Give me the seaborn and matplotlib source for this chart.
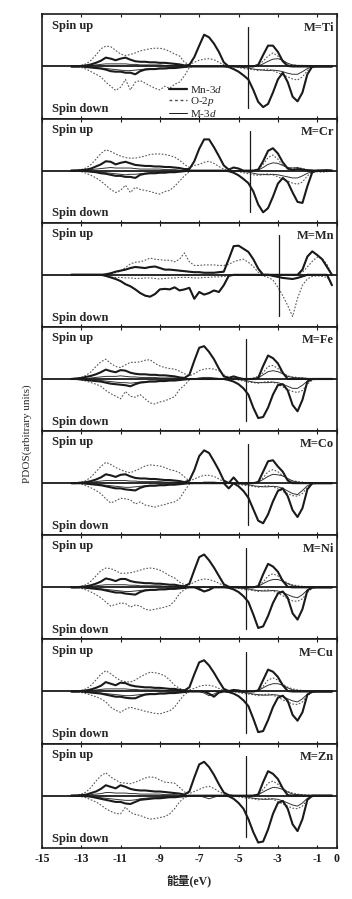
import matplotlib
matplotlib.use('Agg')
import matplotlib.pyplot as plt
import seaborn as sns
from matplotlib.lines import Line2D

# energie (eV), pas de 0.25
energy = [-13.5, -13.25, -13.0, -12.75, -12.5, -12.25, -12.0, -11.75,
          -11.5, -11.25, -11.0, -10.75, -10.5, -10.25, -10.0, -9.75,
          -9.5, -9.25, -9.0, -8.75, -8.5, -8.25, -8.0, -7.75,
          -7.5, -7.25, -7.0, -6.75, -6.5, -6.25, -6.0, -5.75,
          -5.5, -5.25, -5.0, -4.75, -4.5, -4.25, -4.0, -3.75,
          -3.5, -3.25, -3.0, -2.75, -2.5, -2.25, -2.0, -1.75,
          -1.5, -1.25, -1.0, -0.75, -0.5, -0.25]

metals = ['Ti', 'Cr', 'Mn', 'Fe', 'Co', 'Ni', 'Cu', 'Zn']
fermi_levels = [-4.5, -4.4, -2.95, -4.6, -4.5, -4.6, -4.63, -4.6]

# ---- M = Ti ----
ti_mn3d_up = [0, 0, 0.01, 0.02, 0.04, 0.07, 0.11, 0.17,
              0.15, 0.12, 0.15, 0.17, 0.13, 0.10, 0.09, 0.09,
              0.08, 0.08, 0.07, 0.07, 0.06, 0.05, 0.04, 0.02,
              0.03, 0.18, 0.40, 0.61, 0.56, 0.44, 0.28, 0.08,
              0, 0, 0, 0, 0, 0, 0.03, 0.22,
              0.40, 0.40, 0.28, 0.10, 0.01, 0, 0, 0,
              0, 0, 0, 0, 0, 0]
ti_mn3d_dn = [0, 0, 0, 0.01, 0.02, 0.03, 0.04, 0.06,
              0.09, 0.10, 0.10, 0.12, 0.12, 0.15, 0.09, 0.06,
              0.05, 0.05, 0.04, 0.04, 0.03, 0.03, 0.02, 0.01,
              0, 0, 0, 0, 0, 0, 0, 0,
              0.01, 0.05, 0.10, 0.17, 0.25, 0.45, 0.68, 0.78,
              0.72, 0.50, 0.25, 0.12, 0.30, 0.58, 0.67, 0.50,
              0.15, 0, 0, 0, 0, 0]
ti_o2p_up = [0, 0.01, 0.02, 0.05, 0.12, 0.22, 0.34, 0.39,
             0.38, 0.31, 0.24, 0.21, 0.23, 0.26, 0.30, 0.32,
             0.34, 0.35, 0.35, 0.33, 0.29, 0.24, 0.20, 0.08,
             0.04, 0.08, 0.12, 0.14, 0.15, 0.13, 0.08, 0.03,
             0, 0, 0, 0, 0, 0.01, 0.03, 0.10,
             0.20, 0.26, 0.20, 0.10, 0.05, 0.03, 0.02, 0.02,
             0.01, 0, 0, 0, 0, 0]
ti_o2p_dn = [0, 0, 0.02, 0.05, 0.10, 0.15, 0.20, 0.30,
             0.38, 0.46, 0.40, 0.25, 0.45, 0.30, 0.27, 0.32,
             0.37, 0.42, 0.45, 0.38, 0.42, 0.34, 0.30, 0.18,
             0.02, 0, 0, 0, 0, 0, 0, 0,
             0, 0, 0.02, 0.04, 0.05, 0.06, 0.08, 0.06,
             0.05, 0.08, 0.12, 0.16, 0.20, 0.24, 0.26, 0.20,
             0.08, 0.02, 0, 0, 0, 0]
ti_m3d_up = [0, 0, 0, 0.01, 0.02, 0.03, 0.04, 0.05,
             0.05, 0.05, 0.05, 0.05, 0.04, 0.04, 0.03, 0.03,
             0.03, 0.03, 0.03, 0.02, 0.02, 0.02, 0.01, 0.01,
             0, 0, 0, 0, 0, 0, 0, 0,
             0, 0, 0, 0, 0, 0, 0.01, 0.05,
             0.10, 0.14, 0.15, 0.12, 0.06, 0.03, 0.02, 0.02,
             0.02, 0.01, 0, 0, 0, 0]
ti_m3d_dn = [0, 0, 0, 0.01, 0.02, 0.02, 0.03, 0.04,
             0.05, 0.06, 0.07, 0.08, 0.08, 0.07, 0.06, 0.05,
             0.04, 0.04, 0.03, 0.03, 0.02, 0.02, 0.01, 0.01,
             0, 0, 0, 0, 0, 0, 0, 0,
             0, 0, 0.01, 0.02, 0.03, 0.05, 0.06, 0.07,
             0.08, 0.07, 0.08, 0.10, 0.13, 0.15, 0.15, 0.10,
             0.04, 0.01, 0, 0, 0, 0]

# ---- M = Cr ----
cr_mn3d_up = [0, 0, 0.01, 0.02, 0.04, 0.08, 0.12, 0.18,
              0.17, 0.12, 0.15, 0.17, 0.14, 0.11, 0.10, 0.09,
              0.09, 0.08, 0.08, 0.07, 0.07, 0.06, 0.05, 0.03,
              0.03, 0.18, 0.42, 0.60, 0.60, 0.45, 0.28, 0.10,
              0.02, 0.06, 0.04, 0, 0, 0, 0.02, 0.18,
              0.38, 0.43, 0.33, 0.16, 0.04, 0.01, 0.03, 0.02,
              0, 0, 0, 0, 0, 0]
cr_mn3d_dn = [0, 0, 0, 0.01, 0.02, 0.03, 0.05, 0.06,
              0.08, 0.10, 0.10, 0.12, 0.12, 0.14, 0.08, 0.06,
              0.05, 0.05, 0.04, 0.04, 0.03, 0.03, 0.02, 0.01,
              0, 0, 0, 0, 0, 0, 0, 0,
              0.01, 0.04, 0.09, 0.16, 0.24, 0.40, 0.65, 0.80,
              0.72, 0.50, 0.25, 0.14, 0.22, 0.42, 0.60, 0.62,
              0.30, 0.03, 0, 0, 0, 0]
cr_o2p_up = [0, 0.01, 0.02, 0.05, 0.12, 0.22, 0.33, 0.40,
             0.37, 0.32, 0.28, 0.25, 0.24, 0.24, 0.26, 0.28,
             0.31, 0.32, 0.32, 0.31, 0.29, 0.26, 0.20, 0.12,
             0.06, 0.10, 0.12, 0.16, 0.18, 0.14, 0.08, 0.03,
             0, 0, 0, 0, 0, 0.01, 0.03, 0.12,
             0.25, 0.30, 0.22, 0.10, 0.06, 0.04, 0.06, 0.04,
             0.02, 0, 0, 0, 0, 0]
cr_o2p_dn = [0, 0, 0.02, 0.05, 0.09, 0.14, 0.20, 0.28,
             0.36, 0.42, 0.38, 0.28, 0.42, 0.32, 0.36, 0.38,
             0.40, 0.43, 0.45, 0.40, 0.38, 0.30, 0.20, 0.10,
             0.02, 0, 0, 0, 0, 0, 0, 0,
             0, 0, 0.02, 0.04, 0.06, 0.08, 0.09, 0.08,
             0.06, 0.08, 0.12, 0.16, 0.20, 0.24, 0.26, 0.22,
             0.10, 0.03, 0.02, 0.03, 0.02, 0]
cr_m3d_up = [0, 0, 0, 0.01, 0.02, 0.03, 0.04, 0.05,
             0.06, 0.05, 0.05, 0.05, 0.05, 0.04, 0.03, 0.03,
             0.03, 0.03, 0.03, 0.02, 0.02, 0.02, 0.01, 0.01,
             0, 0, 0, 0, 0, 0, 0, 0,
             0, 0, 0, 0, 0, 0, 0.01, 0.06,
             0.12, 0.15, 0.14, 0.10, 0.06, 0.05, 0.06, 0.03,
             0.02, 0.01, 0, 0.01, 0.02, 0]
cr_m3d_dn = [0, 0, 0, 0.01, 0.02, 0.03, 0.03, 0.04,
             0.05, 0.06, 0.07, 0.08, 0.07, 0.07, 0.06, 0.05,
             0.04, 0.04, 0.03, 0.03, 0.02, 0.02, 0.01, 0.01,
             0, 0, 0, 0, 0, 0, 0, 0,
             0, 0, 0.01, 0.02, 0.03, 0.05, 0.07, 0.07,
             0.08, 0.07, 0.08, 0.10, 0.12, 0.14, 0.14, 0.10,
             0.05, 0.02, 0, 0, 0, 0]

# ---- M = Mn ----
mn_mn3d_up = [0, 0, 0, 0, 0, 0, 0, 0.01,
              0.03, 0.06, 0.08, 0.10, 0.13, 0.15, 0.14, 0.13,
              0.15, 0.16, 0.13, 0.10, 0.10, 0.09, 0.08, 0.07,
              0.06, 0.05, 0.05, 0.04, 0.04, 0.04, 0.05, 0.06,
              0.30, 0.55, 0.56, 0.50, 0.44, 0.30, 0.12, 0,
              0, 0, 0, 0, 0, 0, 0, 0.10,
              0.35, 0.45, 0.38, 0.30, 0.15, 0]
mn_mn3d_dn = [0, 0, 0, 0, 0, 0, 0, 0.02,
              0.05, 0.08, 0.12, 0.18, 0.22, 0.28, 0.35, 0.40,
              0.42, 0.37, 0.28, 0.27, 0.28, 0.24, 0.30, 0.28,
              0.25, 0.46, 0.33, 0.38, 0.35, 0.30, 0.33, 0.20,
              0.02, 0, 0, 0, 0, 0, 0, 0,
              0, 0.02, 0.04, 0.06, 0.07, 0.08, 0.06, 0.03,
              0, 0, 0, 0, 0, 0.20]
mn_o2p_up = [0, 0, 0, 0, 0, 0, 0, 0,
             0.02, 0.04, 0.07, 0.14, 0.21, 0.24, 0.25, 0.28,
             0.32, 0.30, 0.29, 0.28, 0.28, 0.25, 0.30, 0.42,
             0.25, 0.18, 0.18, 0.19, 0.19, 0.19, 0.18, 0.18,
             0.20, 0.25, 0.28, 0.30, 0.24, 0.16, 0.05, 0,
             0, 0, 0, 0, 0, 0, 0, 0.05,
             0.15, 0.26, 0.34, 0.31, 0.20, 0]
mn_o2p_dn = [0, 0, 0, 0, 0, 0, 0, 0.02,
             0.04, 0.05, 0.05, 0.06, 0.06, 0.07, 0.07, 0.06,
             0.06, 0.07, 0.08, 0.07, 0.06, 0.06, 0.05, 0.05,
             0.05, 0.06, 0.06, 0.05, 0.05, 0.04, 0.04, 0.03,
             0.02, 0.01, 0, 0, 0, 0, 0, 0.02,
             0.05, 0.10, 0.24, 0.40, 0.59, 0.80, 0.45, 0.20,
             0.08, 0.03, 0.02, 0.03, 0.05, 0.15]
mn_m3d_up = mn_mn3d_up  # M = Mn : meme courbe
mn_m3d_dn = mn_mn3d_dn

# ---- M = Fe ----
fe_mn3d_up = [0, 0.01, 0.02, 0.04, 0.06, 0.09, 0.13, 0.18,
              0.15, 0.13, 0.17, 0.16, 0.12, 0.10, 0.09, 0.09,
              0.08, 0.08, 0.07, 0.07, 0.06, 0.05, 0.03, 0.02,
              0.08, 0.35, 0.60, 0.63, 0.52, 0.38, 0.20, 0.05,
              0.02, 0.05, 0.02, 0, 0, 0, 0.02, 0.25,
              0.45, 0.40, 0.30, 0.12, 0, 0, 0, 0,
              0, 0, 0, 0, 0, 0]
fe_mn3d_dn = [0, 0, 0.01, 0.02, 0.03, 0.04, 0.05, 0.07,
              0.09, 0.10, 0.11, 0.12, 0.14, 0.10, 0.07, 0.06,
              0.05, 0.05, 0.04, 0.04, 0.03, 0.03, 0.02, 0.01,
              0, 0, 0, 0, 0, 0, 0, 0,
              0.02, 0.05, 0.10, 0.18, 0.30, 0.55, 0.75, 0.73,
              0.55, 0.30, 0.12, 0.10, 0.22, 0.50, 0.62, 0.40,
              0.05, 0, 0, 0, 0, 0]
fe_o2p_up = [0, 0.01, 0.03, 0.07, 0.14, 0.24, 0.33, 0.38,
             0.30, 0.24, 0.22, 0.27, 0.32, 0.32, 0.33, 0.36,
             0.37, 0.30, 0.25, 0.22, 0.20, 0.19, 0.15, 0.10,
             0.06, 0.10, 0.16, 0.19, 0.20, 0.19, 0.16, 0.08,
             0.04, 0.02, 0, 0, 0, 0.02, 0.05, 0.12,
             0.24, 0.26, 0.20, 0.12, 0.06, 0.04, 0.03, 0.02,
             0.01, 0, 0, 0, 0, 0]
fe_o2p_dn = [0, 0, 0.02, 0.04, 0.07, 0.10, 0.14, 0.22,
             0.28, 0.33, 0.38, 0.24, 0.33, 0.35, 0.30, 0.38,
             0.46, 0.48, 0.44, 0.42, 0.38, 0.34, 0.20, 0.12,
             0.02, 0, 0, 0, 0, 0, 0, 0,
             0, 0, 0.02, 0.04, 0.06, 0.07, 0.08, 0.06,
             0.05, 0.06, 0.10, 0.15, 0.20, 0.24, 0.26, 0.22,
             0.10, 0.02, 0, 0, 0, 0]
fe_m3d_up = [0, 0, 0, 0.01, 0.02, 0.03, 0.04, 0.05,
             0.05, 0.05, 0.06, 0.05, 0.04, 0.04, 0.03, 0.03,
             0.03, 0.03, 0.02, 0.02, 0.02, 0.02, 0.01, 0.01,
             0, 0, 0.02, 0.03, 0.03, 0.02, 0.01, 0,
             0, 0, 0, 0, 0, 0, 0.02, 0.08,
             0.14, 0.16, 0.14, 0.10, 0.05, 0.03, 0.02, 0.02,
             0.01, 0, 0, 0, 0, 0]
fe_m3d_dn = [0, 0, 0, 0.01, 0.02, 0.02, 0.03, 0.04,
             0.05, 0.06, 0.07, 0.07, 0.08, 0.07, 0.06, 0.05,
             0.04, 0.04, 0.03, 0.03, 0.02, 0.02, 0.01, 0.01,
             0, 0, 0, 0, 0, 0, 0, 0,
             0, 0, 0.01, 0.02, 0.04, 0.06, 0.07, 0.07,
             0.07, 0.06, 0.07, 0.10, 0.14, 0.18, 0.18, 0.12,
             0.04, 0.01, 0, 0, 0, 0]

# ---- M = Co ----
co_mn3d_up = [0, 0, 0.01, 0.02, 0.04, 0.07, 0.11, 0.17,
              0.15, 0.12, 0.16, 0.17, 0.13, 0.10, 0.09, 0.09,
              0.08, 0.08, 0.07, 0.06, 0.06, 0.05, 0.04, 0.02,
              0.05, 0.25, 0.52, 0.63, 0.58, 0.42, 0.25, 0.05,
              0, 0.11, 0, 0, 0, 0, 0.02, 0.22,
              0.42, 0.44, 0.32, 0.22, 0.05, 0, 0, 0,
              0, 0, 0, 0, 0, 0]
co_mn3d_dn = [0, 0, 0, 0.01, 0.02, 0.03, 0.04, 0.06,
              0.08, 0.10, 0.10, 0.12, 0.13, 0.14, 0.09, 0.06,
              0.05, 0.05, 0.04, 0.04, 0.03, 0.03, 0.02, 0.01,
              0, 0, 0, 0, 0, 0, 0, 0,
              0.10, 0, 0.06, 0.15, 0.28, 0.50, 0.72, 0.77,
              0.60, 0.35, 0.15, 0.10, 0.25, 0.52, 0.65, 0.48,
              0.12, 0, 0, 0, 0, 0]
co_o2p_up = [0, 0.01, 0.02, 0.05, 0.12, 0.22, 0.32, 0.40,
             0.36, 0.30, 0.26, 0.22, 0.20, 0.24, 0.28, 0.33,
             0.35, 0.34, 0.33, 0.30, 0.26, 0.24, 0.20, 0.12,
             0.04, 0.08, 0.12, 0.15, 0.15, 0.13, 0.08, 0.03,
             0, 0, 0, 0, 0, 0.01, 0.03, 0.10,
             0.22, 0.26, 0.22, 0.14, 0.08, 0.05, 0.03, 0.02,
             0.01, 0, 0, 0, 0, 0]
co_o2p_dn = [0, 0, 0.02, 0.05, 0.09, 0.14, 0.20, 0.30,
             0.38, 0.34, 0.29, 0.30, 0.32, 0.40, 0.36, 0.42,
             0.44, 0.46, 0.43, 0.41, 0.38, 0.36, 0.30, 0.15,
             0.02, 0, 0, 0, 0, 0, 0, 0,
             0, 0, 0.02, 0.04, 0.05, 0.06, 0.08, 0.06,
             0.05, 0.07, 0.11, 0.16, 0.20, 0.24, 0.25, 0.20,
             0.08, 0.02, 0, 0, 0, 0]
co_m3d_up = [0, 0, 0, 0.01, 0.02, 0.03, 0.04, 0.05,
             0.05, 0.05, 0.05, 0.05, 0.04, 0.04, 0.03, 0.03,
             0.03, 0.03, 0.03, 0.02, 0.02, 0.02, 0.01, 0.01,
             0, 0, 0, 0.02, 0.02, 0.02, 0.01, 0,
             0, 0, 0, 0, 0, 0, 0.02, 0.07,
             0.13, 0.17, 0.16, 0.14, 0.09, 0.04, 0.02, 0.01,
             0, 0, 0, 0, 0, 0]
co_m3d_dn = [0, 0, 0, 0.01, 0.02, 0.02, 0.03, 0.04,
             0.05, 0.06, 0.07, 0.08, 0.08, 0.07, 0.06, 0.05,
             0.04, 0.04, 0.03, 0.03, 0.02, 0.02, 0.01, 0.01,
             0, 0, 0, 0, 0, 0, 0, 0,
             0, 0, 0.01, 0.02, 0.03, 0.05, 0.06, 0.07,
             0.07, 0.06, 0.07, 0.10, 0.15, 0.20, 0.22, 0.14,
             0.05, 0.01, 0, 0, 0, 0]

# ---- M = Ni ----
ni_mn3d_up = [0, 0, 0.01, 0.02, 0.04, 0.07, 0.11, 0.17,
              0.15, 0.12, 0.16, 0.16, 0.12, 0.10, 0.09, 0.08,
              0.08, 0.07, 0.07, 0.06, 0.05, 0.05, 0.03, 0.02,
              0.07, 0.33, 0.58, 0.63, 0.52, 0.38, 0.22, 0.06,
              0.01, 0, 0, 0, 0, 0, 0.02, 0.25,
              0.45, 0.40, 0.30, 0.12, 0.01, 0, 0, 0,
              0, 0, 0, 0, 0, 0]
ni_mn3d_dn = [0, 0, 0, 0.01, 0.02, 0.03, 0.04, 0.06,
              0.08, 0.10, 0.10, 0.12, 0.13, 0.14, 0.09, 0.06,
              0.05, 0.05, 0.04, 0.04, 0.03, 0.03, 0.02, 0.01,
              0, 0, 0.03, 0.08, 0.05, 0, 0, 0,
              0.01, 0.04, 0.09, 0.17, 0.28, 0.52, 0.78, 0.75,
              0.55, 0.30, 0.12, 0.08, 0.20, 0.50, 0.62, 0.42,
              0.06, 0, 0, 0, 0, 0]
ni_o2p_up = [0, 0.01, 0.02, 0.05, 0.12, 0.22, 0.32, 0.37,
             0.36, 0.32, 0.27, 0.27, 0.28, 0.30, 0.33, 0.36,
             0.37, 0.36, 0.33, 0.28, 0.22, 0.18, 0.10, 0.05,
             0.05, 0.10, 0.14, 0.16, 0.15, 0.12, 0.08, 0.03,
             0, 0, 0, 0, 0, 0.01, 0.03, 0.10,
             0.22, 0.26, 0.22, 0.14, 0.08, 0.05, 0.03, 0.02,
             0.01, 0, 0, 0, 0, 0]
ni_o2p_dn = [0, 0, 0.02, 0.05, 0.09, 0.14, 0.20, 0.28,
             0.36, 0.33, 0.30, 0.31, 0.38, 0.34, 0.36, 0.42,
             0.44, 0.42, 0.40, 0.38, 0.35, 0.26, 0.12, 0.04,
             0, 0, 0, 0, 0, 0, 0, 0,
             0, 0, 0.02, 0.04, 0.05, 0.06, 0.08, 0.06,
             0.05, 0.07, 0.11, 0.16, 0.22, 0.26, 0.27, 0.22,
             0.10, 0.02, 0, 0, 0, 0]
ni_m3d_up = [0, 0, 0, 0.01, 0.02, 0.03, 0.04, 0.05,
             0.05, 0.05, 0.05, 0.05, 0.04, 0.04, 0.03, 0.03,
             0.03, 0.03, 0.03, 0.02, 0.02, 0.02, 0.01, 0.01,
             0, 0, 0, 0, 0, 0, 0, 0,
             0, 0, 0, 0, 0, 0, 0.02, 0.07,
             0.12, 0.15, 0.15, 0.12, 0.07, 0.03, 0.02, 0.01,
             0, 0, 0, 0, 0, 0]
ni_m3d_dn = [0, 0, 0, 0.01, 0.02, 0.02, 0.03, 0.04,
             0.05, 0.06, 0.07, 0.08, 0.08, 0.07, 0.06, 0.05,
             0.04, 0.04, 0.03, 0.03, 0.02, 0.02, 0.01, 0.01,
             0, 0, 0.05, 0.08, 0.04, 0, 0, 0,
             0, 0, 0.01, 0.02, 0.03, 0.05, 0.06, 0.07,
             0.07, 0.06, 0.07, 0.10, 0.14, 0.18, 0.20, 0.14,
             0.05, 0.01, 0, 0, 0, 0]

# ---- M = Cu ----
cu_mn3d_up = [0, 0, 0.01, 0.02, 0.04, 0.07, 0.11, 0.18,
              0.15, 0.12, 0.17, 0.16, 0.12, 0.10, 0.09, 0.08,
              0.08, 0.07, 0.07, 0.06, 0.05, 0.05, 0.03, 0.02,
              0.08, 0.33, 0.56, 0.60, 0.50, 0.36, 0.20, 0.05,
              0.01, 0.03, 0.02, 0, 0, 0, 0.02, 0.22,
              0.42, 0.38, 0.28, 0.12, 0.01, 0, 0, 0,
              0, 0, 0, 0, 0, 0]
cu_mn3d_dn = [0, 0, 0, 0.01, 0.02, 0.03, 0.04, 0.06,
              0.08, 0.10, 0.10, 0.12, 0.13, 0.13, 0.09, 0.06,
              0.05, 0.05, 0.04, 0.04, 0.03, 0.03, 0.02, 0.01,
              0, 0, 0, 0, 0.04, 0.10, 0.02, 0,
              0.01, 0.04, 0.09, 0.17, 0.28, 0.52, 0.78, 0.76,
              0.55, 0.30, 0.12, 0.08, 0.18, 0.45, 0.56, 0.40,
              0.06, 0, 0, 0, 0, 0]
cu_o2p_up = [0, 0.01, 0.02, 0.05, 0.12, 0.22, 0.33, 0.40,
             0.34, 0.27, 0.21, 0.19, 0.18, 0.22, 0.28, 0.33,
             0.37, 0.36, 0.34, 0.30, 0.22, 0.12, 0.06, 0.03,
             0.03, 0.06, 0.10, 0.12, 0.12, 0.10, 0.06, 0.02,
             0, 0, 0, 0, 0, 0.01, 0.03, 0.10,
             0.22, 0.26, 0.22, 0.14, 0.08, 0.05, 0.03, 0.02,
             0.01, 0, 0, 0, 0, 0]
cu_o2p_dn = [0, 0, 0.02, 0.04, 0.07, 0.10, 0.14, 0.20,
             0.30, 0.36, 0.40, 0.34, 0.30, 0.33, 0.35, 0.38,
             0.40, 0.42, 0.43, 0.40, 0.37, 0.30, 0.17, 0.06,
             0, 0, 0, 0, 0, 0, 0, 0,
             0, 0, 0.02, 0.04, 0.05, 0.06, 0.08, 0.06,
             0.05, 0.07, 0.11, 0.16, 0.20, 0.24, 0.25, 0.20,
             0.08, 0.02, 0, 0, 0, 0]
cu_m3d_up = [0, 0, 0, 0.01, 0.02, 0.03, 0.04, 0.05,
             0.05, 0.05, 0.05, 0.05, 0.04, 0.04, 0.03, 0.03,
             0.03, 0.03, 0.03, 0.02, 0.02, 0.02, 0.01, 0.01,
             0, 0, 0, 0, 0, 0, 0, 0,
             0, 0, 0, 0, 0, 0, 0.02, 0.07,
             0.12, 0.15, 0.15, 0.12, 0.07, 0.03, 0.02, 0.01,
             0, 0, 0, 0, 0, 0]
cu_m3d_dn = [0, 0, 0, 0.01, 0.02, 0.02, 0.03, 0.04,
             0.05, 0.06, 0.07, 0.08, 0.08, 0.07, 0.06, 0.05,
             0.04, 0.04, 0.03, 0.03, 0.02, 0.02, 0.01, 0.01,
             0, 0, 0, 0.03, 0.08, 0.05, 0, 0,
             0, 0, 0.01, 0.02, 0.03, 0.05, 0.06, 0.07,
             0.07, 0.06, 0.07, 0.10, 0.14, 0.18, 0.20, 0.14,
             0.05, 0.01, 0, 0, 0, 0]

# ---- M = Zn ----
zn_mn3d_up = [0, 0, 0.01, 0.02, 0.05, 0.08, 0.13, 0.20,
              0.17, 0.14, 0.20, 0.17, 0.13, 0.11, 0.10, 0.10,
              0.09, 0.08, 0.08, 0.07, 0.06, 0.05, 0.04, 0.02,
              0.08, 0.35, 0.60, 0.65, 0.55, 0.40, 0.22, 0.06,
              0.01, 0, 0, 0, 0, 0, 0.02, 0.26,
              0.47, 0.42, 0.32, 0.14, 0.01, 0, 0, 0,
              0, 0, 0, 0, 0, 0]
zn_mn3d_dn = [0, 0, 0, 0.01, 0.02, 0.04, 0.06, 0.08,
              0.10, 0.12, 0.12, 0.15, 0.16, 0.12, 0.08, 0.07,
              0.06, 0.05, 0.05, 0.04, 0.03, 0.03, 0.02, 0.01,
              0, 0, 0, 0, 0, 0, 0, 0,
              0.01, 0.06, 0.14, 0.25, 0.45, 0.70, 0.90, 0.88,
              0.65, 0.35, 0.14, 0.10, 0.25, 0.55, 0.68, 0.45,
              0.08, 0, 0, 0, 0, 0]
zn_o2p_up = [0, 0.01, 0.03, 0.07, 0.16, 0.28, 0.38, 0.44,
             0.36, 0.30, 0.25, 0.24, 0.23, 0.26, 0.30, 0.34,
             0.36, 0.35, 0.30, 0.26, 0.25, 0.24, 0.16, 0.07,
             0.04, 0.08, 0.12, 0.16, 0.18, 0.14, 0.08, 0.03,
             0, 0, 0, 0, 0, 0.01, 0.03, 0.12,
             0.24, 0.28, 0.22, 0.14, 0.08, 0.05, 0.03, 0.02,
             0.01, 0, 0, 0, 0, 0]
zn_o2p_dn = [0, 0, 0.02, 0.04, 0.08, 0.12, 0.18, 0.25,
             0.30, 0.34, 0.35, 0.22, 0.32, 0.36, 0.38, 0.42,
             0.45, 0.44, 0.42, 0.40, 0.35, 0.25, 0.12, 0.04,
             0, 0, 0, 0, 0, 0, 0, 0,
             0, 0, 0.02, 0.04, 0.05, 0.06, 0.08, 0.06,
             0.05, 0.07, 0.11, 0.16, 0.20, 0.24, 0.25, 0.20,
             0.08, 0.02, 0, 0, 0, 0]
zn_m3d_up = [0, 0, 0, 0.01, 0.02, 0.03, 0.04, 0.06,
             0.06, 0.05, 0.05, 0.05, 0.04, 0.04, 0.03, 0.03,
             0.03, 0.03, 0.03, 0.02, 0.02, 0.02, 0.01, 0.01,
             0, 0, 0, 0, 0, 0, 0, 0,
             0, 0, 0, 0, 0, 0, 0.02, 0.07,
             0.12, 0.16, 0.15, 0.12, 0.07, 0.03, 0.02, 0.01,
             0, 0, 0, 0, 0, 0]
zn_m3d_dn = [0, 0, 0, 0.01, 0.02, 0.03, 0.04, 0.05,
             0.06, 0.07, 0.08, 0.09, 0.09, 0.08, 0.06, 0.05,
             0.04, 0.04, 0.03, 0.03, 0.02, 0.02, 0.01, 0.01,
             0, 0, 0, 0.03, 0.06, 0.03, 0, 0,
             0, 0, 0.01, 0.02, 0.03, 0.05, 0.06, 0.07,
             0.07, 0.06, 0.07, 0.10, 0.14, 0.18, 0.20, 0.14,
             0.05, 0.01, 0, 0, 0, 0]

curves = [
    (ti_mn3d_up, ti_mn3d_dn, ti_o2p_up, ti_o2p_dn, ti_m3d_up, ti_m3d_dn),
    (cr_mn3d_up, cr_mn3d_dn, cr_o2p_up, cr_o2p_dn, cr_m3d_up, cr_m3d_dn),
    (mn_mn3d_up, mn_mn3d_dn, mn_o2p_up, mn_o2p_dn, mn_m3d_up, mn_m3d_dn),
    (fe_mn3d_up, fe_mn3d_dn, fe_o2p_up, fe_o2p_dn, fe_m3d_up, fe_m3d_dn),
    (co_mn3d_up, co_mn3d_dn, co_o2p_up, co_o2p_dn, co_m3d_up, co_m3d_dn),
    (ni_mn3d_up, ni_mn3d_dn, ni_o2p_up, ni_o2p_dn, ni_m3d_up, ni_m3d_dn),
    (cu_mn3d_up, cu_mn3d_dn, cu_o2p_up, cu_o2p_dn, cu_m3d_up, cu_m3d_dn),
    (zn_mn3d_up, zn_mn3d_dn, zn_o2p_up, zn_o2p_dn, zn_m3d_up, zn_m3d_dn),
]

sns.set_theme(style='ticks')
plt.rcParams['font.family'] = ['Liberation Serif', 'Noto Sans CJK SC']
plt.rcParams['mathtext.fontset'] = 'custom'
plt.rcParams['mathtext.rm'] = 'Liberation Serif'
plt.rcParams['mathtext.it'] = 'Liberation Serif:italic'
plt.rcParams['axes.unicode_minus'] = False

fig, axes = plt.subplots(8, 1, figsize=(3.52, 8.99), dpi=100, sharex=True)
fig.subplots_adjust(left=0.119, right=0.957, top=0.984, bottom=0.057, hspace=0)

dot = (0, (1.5, 1.5))
for ax, name, ef, (mu, md, ou, od, tu, td) in zip(axes, metals, fermi_levels, curves):
    # O-2p pointille
    sns.lineplot(x=energy, y=ou, ax=ax, color='0.35', lw=0.8, linestyle=dot)
    sns.lineplot(x=energy, y=[-v for v in od], ax=ax, color='0.35', lw=0.8, linestyle=dot)
    # M-3d fin
    sns.lineplot(x=energy, y=tu, ax=ax, color='0.2', lw=0.7)
    sns.lineplot(x=energy, y=[-v for v in td], ax=ax, color='0.2', lw=0.7)
    # Mn-3d epais
    sns.lineplot(x=energy, y=mu, ax=ax, color='k', lw=1.5)
    sns.lineplot(x=energy, y=[-v for v in md], ax=ax, color='k', lw=1.5)

    ax.axhline(0, color='k', lw=1.3)
    ax.axvline(ef, ymin=0.1, ymax=0.88, color='k', lw=0.9)

    ax.set_xlim(-15, 0)
    ax.set_ylim(-1, 1)
    ax.set_yticks([])
    ax.set_ylabel('')
    ax.set_xticks([-15, -13, -11, -9, -7, -5, -3, -1, 0])
    ax.tick_params(axis='x', direction='in', top=True, length=2.5, width=0.8,
                   labelsize=8.5, colors='k')
    for lab in ax.get_xticklabels():
        lab.set_fontweight('bold')
    for sp in ax.spines.values():
        sp.set_color('k')
        sp.set_linewidth(1.2)

    ax.text(0.034, 0.95, 'Spin up', transform=ax.transAxes, va='top', ha='left',
            fontsize=9, fontweight='bold')
    ax.text(0.034, 0.06, 'Spin down', transform=ax.transAxes, va='baseline', ha='left',
            fontsize=9, fontweight='bold')
    ax.text(0.99, 0.93, 'M=' + name, transform=ax.transAxes, va='top', ha='right',
            fontsize=9, fontweight='bold')

# legende dans le premier panneau
handles = [Line2D([], [], color='k', lw=1.6),
           Line2D([], [], color='0.3', lw=1.0, linestyle=(0, (2, 2))),
           Line2D([], [], color='k', lw=0.7)]
axes[0].legend(handles, ['Mn-3$d$', 'O-2$p$', 'M-3$d$'], loc='upper left',
               bbox_to_anchor=(0.43, 0.33), frameon=False, fontsize=8,
               handlelength=1.6, handletextpad=0.3, labelspacing=0.0,
               borderpad=0, borderaxespad=0)

fig.text(0.077, 0.518, 'PDOS(arbitrary units)', rotation=90, ha='center', va='center', fontsize=8)
fig.text(0.537, 0.0204, '能量(eV)', ha='center', va='center', fontsize=8.5, fontweight='bold')

fig.savefig('out.png', dpi=100)
